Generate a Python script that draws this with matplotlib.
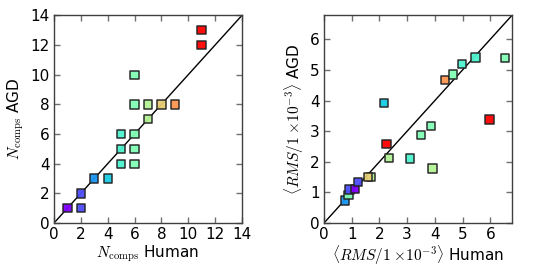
import matplotlib
matplotlib.use("Agg")
import matplotlib.pyplot as plt
import numpy as np

plt.rcParams['mathtext.fontset'] = 'cm'
plt.rcParams['font.family'] = ['DejaVu Sans']

# Left panel: number of components
ncomp_human = [1, 2, 2, 3, 4, 5, 5, 5, 6, 6, 6, 6, 6, 7, 7, 8, 9, 11, 11]
ncomp_agd = [1, 2, 1, 3, 3, 6, 5, 4, 10, 8, 6, 5, 4, 8, 7, 8, 8, 13, 12]

# Right panel: residual RMS (units of 1e-3), colored by human N_comps
rms_human = [0.75, 0.88, 0.92, 1.13, 1.23, 1.69, 1.58, 2.17, 2.25, 2.34,
             3.10, 3.50, 3.86, 3.92, 4.37, 4.66, 4.99, 5.47, 5.97, 6.52]
rms_agd = [0.74, 0.92, 1.10, 1.11, 1.34, 1.51, 1.51, 3.91, 2.57, 2.12,
           2.11, 2.88, 3.16, 1.78, 4.67, 4.85, 5.19, 5.40, 3.38, 5.38]
rms_color = [3, 6, 2, 1, 2, 7, 8, 4, 11, 7,
             5, 6, 6, 7, 9, 6, 5, 5, 11, 6]

left_ticks = [0, 2, 4, 6, 8, 10, 12, 14]
right_ticks = [0, 1, 2, 3, 4, 5, 6]

fig = plt.figure(figsize=(5.4, 2.7), dpi=100)
ax1 = fig.add_axes([0.100, 0.174, 0.348, 0.769])
ax2 = fig.add_axes([0.600, 0.174, 0.348, 0.769])

cmap = plt.get_cmap('rainbow')
vmin, vmax = min(ncomp_human), max(ncomp_human)

def style(ax):
    for s in ax.spines.values():
        s.set_color('#404040')
        s.set_linewidth(1.0)
    ax.tick_params(direction='in', top=True, right=True, length=4,
                   width=1, color='#707070', labelsize=11, pad=3)

# left
lim1 = 14
ax1.plot([0, lim1], [0, lim1], color='k', lw=1, zorder=1)
ax1.scatter(ncomp_human, ncomp_agd, c=ncomp_human, cmap=cmap, vmin=vmin, vmax=vmax,
            marker='s', s=36, edgecolors='#222222', linewidths=1.1, alpha=0.95, zorder=2)
ax1.set_xlim(0, lim1)
ax1.set_ylim(0, lim1)
ax1.set_xticks(left_ticks)
ax1.set_yticks(left_ticks)
ax1.set_xlabel(r'$N_{\rm comps}$ Human', fontsize=11, labelpad=1)
ax1.set_ylabel(r'$N_{\rm comps}$ AGD', fontsize=11, labelpad=3)
style(ax1)

# right
lim2 = 6.78
ax2.plot([0, lim2], [0, lim2], color='k', lw=1, zorder=1)
ax2.scatter(rms_human, rms_agd, c=rms_color, cmap=cmap, vmin=vmin, vmax=vmax,
            marker='s', s=36, edgecolors='#222222', linewidths=1.1, alpha=0.95, zorder=2)
ax2.set_xlim(0, lim2)
ax2.set_ylim(0, lim2)
ax2.set_xticks(right_ticks)
ax2.set_yticks(right_ticks)
ax2.set_xlabel(r'$\langle RMS/1\;{\times}10^{-3}\rangle$ Human', fontsize=11, labelpad=1)
ax2.set_ylabel(r'$\langle RMS/1\;{\times}10^{-3}\rangle$ AGD', fontsize=11, labelpad=3)
style(ax2)

fig.savefig('out.png', dpi=100)
